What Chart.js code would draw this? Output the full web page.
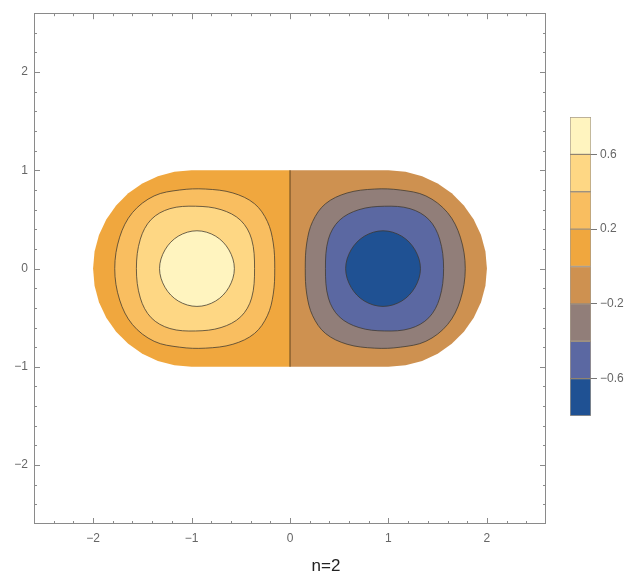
<!DOCTYPE html>
<html>
<head>
<meta charset="utf-8">
<title>n=2</title>
<script src="https://cdn.jsdelivr.net/npm/chart.js@4.4.1/dist/chart.umd.min.js"></script>
<style>
  html, body { margin: 0; padding: 0; background: #fff; overflow: hidden; }
  #wrap { position: relative; width: 633px; height: 585px; overflow: hidden; }
  #plot { position: absolute; left: 0; top: 0; }
  #bar { position: absolute; left: 560px; top: 100px; }
</style>
</head>
<body>
<div id="wrap">
  <canvas id="plot" width="652" height="585"></canvas>
  <canvas id="bar" width="73" height="330"></canvas>
</div>
<script>
// Axes
const xRange = [-2.6, 2.6];
const yRange = [-2.6, 2.6];
const axisTicks = [-2, -1, 0, 1, 2];
const plotTitle = 'n=2';

// Colour levels (steps of 0.2 from -0.8 to 0.8) and legend ticks
const levelEdges = [-0.8, -0.6, -0.4, -0.2, 0, 0.2, 0.4, 0.6, 0.8];
const levelColors = ['#1f5193', '#5b68a2', '#917e79', '#ce9150', '#f0a73e', '#f9be60', '#fed784', '#fff4bf'];
const barTicks = [-0.6, -0.2, 0.2, 0.6];

// Stadium halves (x < 0 is positive, x > 0 is negative)
const stadiumLeft = [[0, 1], [-1, 1], [-1.174, 0.985], [-1.342, 0.94], [-1.5, 0.866], [-1.643, 0.766],
  [-1.766, 0.643], [-1.866, 0.5], [-1.94, 0.342], [-1.985, 0.174], [-2, 0], [-1.985, -0.174], [-1.94, -0.342],
  [-1.866, -0.5], [-1.766, -0.643], [-1.643, -0.766], [-1.5, -0.866], [-1.342, -0.94], [-1.174, -0.985],
  [-1, -1], [0, -1]];
const stadiumRight = [[0, 1], [1, 1], [1.174, 0.985], [1.342, 0.94], [1.5, 0.866], [1.643, 0.766],
  [1.766, 0.643], [1.866, 0.5], [1.94, 0.342], [1.985, 0.174], [2, 0], [1.985, -0.174], [1.94, -0.342],
  [1.866, -0.5], [1.766, -0.643], [1.643, -0.766], [1.5, -0.866], [1.342, -0.94], [1.174, -0.985],
  [1, -1], [0, -1]];
const nodalLine = [[0, 1], [0, -1]];

// Contour lines
const contourP02 = [[-1.78, 0], [-1.73, 0.32], [-1.6, 0.57], [-1.38, 0.74], [-1.12, 0.8], [-0.86, 0.81], [-0.58, 0.77],
  [-0.36, 0.66], [-0.23, 0.48], [-0.17, 0.26], [-0.155, 0], [-0.17, -0.26], [-0.23, -0.48], [-0.36, -0.66],
  [-0.58, -0.77], [-0.86, -0.81], [-1.12, -0.8], [-1.38, -0.74], [-1.6, -0.57], [-1.73, -0.32]];
const contourP04 = [[-1.56, 0], [-1.52, 0.3], [-1.41, 0.5], [-1.22, 0.61], [-0.96, 0.635], [-0.7, 0.6], [-0.5, 0.49],
  [-0.39, 0.3], [-0.36, 0], [-0.39, -0.3], [-0.5, -0.49], [-0.7, -0.6], [-0.96, -0.635], [-1.22, -0.61],
  [-1.41, -0.5], [-1.52, -0.3]];
const contourP06 = [[-1.325, 0], [-1.27, 0.19], [-1.135, 0.33], [-0.945, 0.385], [-0.755, 0.33], [-0.62, 0.19],
  [-0.565, 0], [-0.62, -0.19], [-0.755, -0.33], [-0.945, -0.385], [-1.135, -0.33], [-1.27, -0.19]];
const contourN02 = [[1.78, 0], [1.73, 0.32], [1.6, 0.57], [1.38, 0.74], [1.12, 0.8], [0.86, 0.81], [0.58, 0.77],
  [0.36, 0.66], [0.23, 0.48], [0.17, 0.26], [0.155, 0], [0.17, -0.26], [0.23, -0.48], [0.36, -0.66],
  [0.58, -0.77], [0.86, -0.81], [1.12, -0.8], [1.38, -0.74], [1.6, -0.57], [1.73, -0.32]];
const contourN04 = [[1.56, 0], [1.52, 0.3], [1.41, 0.5], [1.22, 0.61], [0.96, 0.635], [0.7, 0.6], [0.5, 0.49],
  [0.39, 0.3], [0.36, 0], [0.39, -0.3], [0.5, -0.49], [0.7, -0.6], [0.96, -0.635], [1.22, -0.61],
  [1.41, -0.5], [1.52, -0.3]];
const contourN06 = [[1.325, 0], [1.27, 0.19], [1.135, 0.33], [0.945, 0.385], [0.755, 0.33], [0.62, 0.19],
  [0.565, 0], [0.62, -0.19], [0.755, -0.33], [0.945, -0.385], [1.135, -0.33], [1.27, -0.19]];

const fontFamily = '"Liberation Sans", Arial, sans-serif';
const lineColor = 'rgba(60, 55, 45, 0.75)';

function fmtInt(v) {
  return (v < 0 ? '\u2212' : '') + Math.abs(v);
}
function fmtLevel(v) {
  return (v < 0 ? '\u2212' : '') + Math.abs(v).toFixed(1);
}
function toXY(pts) {
  return pts.map(p => ({x: p[0], y: p[1]}));
}

// Filled region: plain polygon for the domain, smooth closed curve for contours
function region(pts, color, curve) {
  return {
    data: toXY(pts),
    closed: curve,
    backgroundColor: color,
    borderColor: curve ? lineColor : color,
    borderWidth: curve ? 1 : 0,
    tension: curve ? 0.35 : 0,
    fill: 'shape',
    pointRadius: 0
  };
}

const datasets = [
  region(stadiumLeft, levelColors[4], false),
  region(stadiumRight, levelColors[3], false),
  region(contourP02, levelColors[5], true),
  region(contourP04, levelColors[6], true),
  region(contourP06, levelColors[7], true),
  region(contourN02, levelColors[2], true),
  region(contourN04, levelColors[1], true),
  region(contourN06, levelColors[0], true),
  {
    data: toXY(nodalLine),
    borderColor: 'rgba(100, 70, 30, 0.85)',
    borderWidth: 1.2,
    fill: false,
    pointRadius: 0
  }
];
// first dataset at the bottom
datasets.forEach((d, i) => { d.order = datasets.length - i; });

// Close contour curves smoothly (same trick the radar chart uses)
const closedCurves = {
  id: 'closedCurves',
  afterDatasetUpdate(chart, args) {
    const line = args.meta.dataset;
    if (line && chart.data.datasets[args.index].closed) {
      line._loop = true;
      line._fullLoop = true;
    }
  }
};

// Mathematica style frame with inward ticks on all four sides
const frameTicks = {
  id: 'frameTicks',
  afterDatasetsDraw(chart) {
    const {ctx, chartArea: a, scales} = chart;
    const xs = scales.x, ys = scales.y;
    ctx.save();
    ctx.strokeStyle = '#8a8a8a';
    ctx.lineWidth = 1;
    ctx.strokeRect(Math.round(a.left) + 0.5, Math.round(a.top) + 0.5,
      Math.round(a.width) - 1, Math.round(a.height) - 1);
    ctx.beginPath();
    for (let i = -12; i <= 12; i++) {
      const v = i / 5;
      const len = i % 5 === 0 ? 6 : 3;
      const px = Math.round(xs.getPixelForValue(v)) + 0.5;
      ctx.moveTo(px, a.bottom); ctx.lineTo(px, a.bottom - len);
      ctx.moveTo(px, a.top); ctx.lineTo(px, a.top + len);
      const py = Math.round(ys.getPixelForValue(v)) + 0.5;
      ctx.moveTo(a.left, py); ctx.lineTo(a.left + len, py);
      ctx.moveTo(a.right, py); ctx.lineTo(a.right - len, py);
    }
    ctx.stroke();
    ctx.restore();
  }
};

const tickFont = {family: fontFamily, size: 12};

new Chart(document.getElementById('plot'), {
  type: 'line',
  data: {datasets: datasets},
  plugins: [closedCurves, frameTicks],
  options: {
    responsive: false,
    animation: false,
    events: [],
    layout: {padding: {top: 9, left: 0, right: 0, bottom: 0}},
    plugins: {
      legend: {display: false},
      tooltip: {enabled: false},
      title: {
        display: true,
        position: 'bottom',
        text: plotTitle,
        color: '#222',
        font: {family: fontFamily, size: 17, weight: 'normal'},
        padding: {top: 5, bottom: 8}
      }
    },
    scales: {
      x: {
        type: 'linear',
        position: 'bottom',
        min: xRange[0],
        max: xRange[1],
        afterBuildTicks: s => { s.ticks = axisTicks.map(v => ({value: v})); },
        afterFit: s => { s.height = 27.6; },
        grid: {display: false, drawTicks: false},
        border: {display: false},
        ticks: {padding: 7, color: '#666', font: tickFont, callback: v => fmtInt(v)}
      },
      y: {
        type: 'linear',
        position: 'left',
        min: yRange[0],
        max: yRange[1],
        afterBuildTicks: s => { s.ticks = axisTicks.map(v => ({value: v})); },
        afterFit: s => { s.width = 34; },
        grid: {display: false, drawTicks: false},
        border: {display: false},
        ticks: {padding: 6, color: '#666', font: tickFont, callback: v => fmtInt(v)}
      },
      side: {
        axis: 'y',
        type: 'linear',
        position: 'right',
        afterFit: s => { s.width = 106; },
        grid: {display: false, drawTicks: false},
        border: {display: false},
        ticks: {display: false}
      }
    }
  }
});

// Colour bar legend
new Chart(document.getElementById('bar'), {
  type: 'bar',
  data: {
    labels: [''],
    datasets: levelColors.map((c, i) => ({
      data: [[levelEdges[i], levelEdges[i + 1]]],
      backgroundColor: c,
      borderColor: 'rgba(95, 75, 45, 0.55)',
      borderWidth: 1,
      borderSkipped: false,
      barPercentage: 1,
      categoryPercentage: 1,
      grouped: false
    }))
  },
  options: {
    responsive: false,
    animation: false,
    events: [],
    layout: {padding: {left: 10, top: 17, bottom: 14, right: 0}},
    plugins: {legend: {display: false}, tooltip: {enabled: false}},
    scales: {
      x: {display: false},
      y: {
        position: 'right',
        min: levelEdges[0],
        max: levelEdges[levelEdges.length - 1],
        afterBuildTicks: s => { s.ticks = barTicks.map(v => ({value: v})); },
        afterFit: s => { s.width = 42; },
        grid: {drawOnChartArea: false, drawTicks: true, tickLength: 6, tickColor: '#777'},
        border: {display: false},
        ticks: {padding: 3, color: '#666', font: tickFont, callback: v => fmtLevel(v)}
      }
    }
  }
});
</script>
</body>
</html>
